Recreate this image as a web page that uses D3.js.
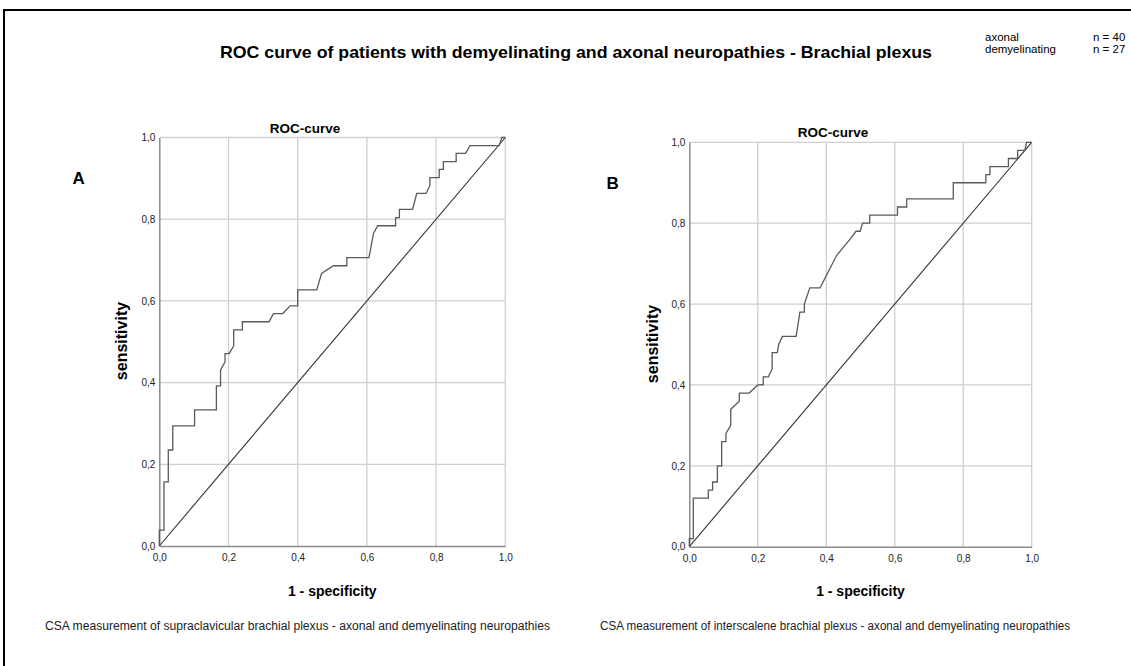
<!DOCTYPE html>
<html>
<head>
<meta charset="utf-8">
<script src="https://cdn.jsdelivr.net/npm/d3@7"></script>
<style>
  html, body { margin: 0; padding: 0; background: #fff; }
  svg { display: block; font-family: "Liberation Sans", Arial, sans-serif; }
</style>
</head>
<body>
<svg id="chart" width="1131" height="666"></svg>
<script>
// ROC curve vertices (1 - specificity, sensitivity), supraclavicular plexus
const supraFpr = [0, 0, 0.0136, 0.0136, 0.026, 0.026, 0.039, 0.039, 0.102, 0.102, 0.165, 0.165, 0.177, 0.177, 0.19, 0.19, 0.202, 0.215, 0.215, 0.24, 0.24, 0.317, 0.33, 0.357, 0.378, 0.4, 0.4, 0.455, 0.469, 0.503, 0.542, 0.542, 0.606, 0.619, 0.631, 0.683, 0.683, 0.694, 0.694, 0.732, 0.744, 0.771, 0.782, 0.782, 0.809, 0.809, 0.821, 0.821, 0.858, 0.858, 0.885, 0.898, 0.982, 0.99, 1];
const supraTpr = [0, 0.039, 0.039, 0.157, 0.157, 0.235, 0.235, 0.294, 0.294, 0.333, 0.333, 0.392, 0.392, 0.431, 0.451, 0.471, 0.471, 0.49, 0.529, 0.529, 0.549, 0.549, 0.569, 0.569, 0.588, 0.588, 0.627, 0.627, 0.667, 0.686, 0.686, 0.706, 0.706, 0.765, 0.784, 0.784, 0.804, 0.804, 0.824, 0.824, 0.863, 0.863, 0.882, 0.902, 0.902, 0.922, 0.922, 0.941, 0.941, 0.961, 0.961, 0.98, 0.98, 1, 1];

// ROC curve vertices, interscalene plexus
const interFpr = [0, 0, 0.0117, 0.0117, 0.0555, 0.0555, 0.068, 0.068, 0.082, 0.082, 0.0945, 0.0945, 0.107, 0.107, 0.121, 0.121, 0.146, 0.146, 0.175, 0.2, 0.216, 0.216, 0.231, 0.242, 0.242, 0.257, 0.261, 0.272, 0.312, 0.323, 0.336, 0.336, 0.352, 0.382, 0.43, 0.469, 0.487, 0.499, 0.506, 0.527, 0.527, 0.608, 0.608, 0.635, 0.635, 0.771, 0.771, 0.866, 0.866, 0.878, 0.878, 0.932, 0.932, 0.959, 0.959, 0.98, 0.985, 1];
const interTpr = [0, 0.02, 0.02, 0.12, 0.12, 0.14, 0.14, 0.16, 0.16, 0.2, 0.2, 0.26, 0.26, 0.28, 0.3, 0.34, 0.36, 0.38, 0.38, 0.4, 0.4, 0.42, 0.42, 0.44, 0.48, 0.48, 0.5, 0.52, 0.52, 0.58, 0.58, 0.6, 0.64, 0.64, 0.72, 0.76, 0.78, 0.78, 0.8, 0.8, 0.82, 0.82, 0.84, 0.84, 0.86, 0.86, 0.9, 0.9, 0.92, 0.92, 0.94, 0.94, 0.96, 0.96, 0.98, 0.98, 1, 1];

// Reference (chance) line
const diagonal = [0, 1];

// Axis ticks and their comma-decimal labels
const tickValues = [0, 0.2, 0.4, 0.6, 0.8, 1.0];
const tickLabels = ["0,0", "0,2", "0,4", "0,6", "0,8", "1,0"];

// Group sizes
const groupNames = ["axonal", "demyelinating"];
const groupCounts = ["n = 40", "n = 27"];

const mainTitle = "ROC curve of patients with demyelinating and axonal neuropathies - Brachial plexus";
const panelTitle = "ROC-curve";
const xTitle = "1 - specificity";
const yTitle = "sensitivity";

const panels = [
  { letter: "A", fpr: supraFpr, tpr: supraTpr,
    caption: "CSA measurement of supraclavicular brachial plexus - axonal and demyelinating neuropathies",
    x0: 159.3, x1: 505.3, y0: 546, y1: 137.5,
    letterX: 72.5, letterY: 184, titleX: 305, titleY: 133, yLabX: 121, yLabY: 341,
    capX: 45, capW: 505 },
  { letter: "B", fpr: interFpr, tpr: interTpr,
    caption: "CSA measurement of interscalene brachial plexus - axonal and demyelinating neuropathies",
    x0: 689.3, x1: 1031.7, y0: 546.7, y1: 142.3,
    letterX: 606.5, letterY: 189, titleX: 833, titleY: 137, yLabX: 652, yLabY: 344,
    capX: 600, capW: 470 }
];

const svg = d3.select("#chart");

// Outer frame
svg.append("rect")
  .attr("x", 4).attr("y", 10)
  .attr("width", 1140).attr("height", 700)
  .attr("fill", "none").attr("stroke", "#000").attr("stroke-width", 2);

// Main title
svg.append("text")
  .attr("x", 220).attr("y", 58)
  .attr("font-size", 17).attr("font-weight", "bold")
  .attr("textLength", 712).attr("lengthAdjust", "spacingAndGlyphs")
  .text(mainTitle);

// Group legend
groupNames.forEach((g, i) => {
  svg.append("text").attr("x", 985).attr("y", 41 + i * 12)
    .attr("font-size", 11.5).text(g);
  svg.append("text").attr("x", 1093).attr("y", 41 + i * 12)
    .attr("font-size", 11.5).text(groupCounts[i]);
});

panels.forEach(p => {
  const x = d3.scaleLinear().domain([0, 1]).range([p.x0, p.x1]);
  const y = d3.scaleLinear().domain([0, 1]).range([p.y0, p.y1]);
  const g = svg.append("g");

  // Grid
  g.append("g").selectAll("line.vg").data(tickValues.slice(1)).join("line")
    .attr("x1", d => x(d)).attr("x2", d => x(d))
    .attr("y1", y(0)).attr("y2", y(1))
    .attr("stroke", "#cfcfcf").attr("stroke-width", 1.3);
  g.append("g").selectAll("line.hg").data(tickValues.slice(1)).join("line")
    .attr("y1", d => y(d)).attr("y2", d => y(d))
    .attr("x1", x(0)).attr("x2", x(1))
    .attr("stroke", "#cfcfcf").attr("stroke-width", 1.3);

  // Axes
  const xAxis = d3.axisBottom(x).tickValues(tickValues)
    .tickFormat((d, i) => tickLabels[i]).tickSize(0).tickPadding(8);
  const yAxis = d3.axisLeft(y).tickValues(tickValues)
    .tickFormat((d, i) => tickLabels[i]).tickSize(0).tickPadding(4);
  const gx = g.append("g").attr("transform", `translate(0,${y(0)})`).call(xAxis);
  const gy = g.append("g").attr("transform", `translate(${x(0)},0)`).call(yAxis);
  [gx, gy].forEach(a => {
    a.select(".domain").attr("stroke", "#8a8a8a").attr("stroke-width", 1.5);
    a.selectAll("text").attr("font-size", 10).attr("fill", "#222")
      .attr("font-family", "Liberation Sans, Arial, sans-serif");
  });

  // Chance line
  g.append("line")
    .attr("x1", x(diagonal[0])).attr("y1", y(diagonal[0]))
    .attr("x2", x(diagonal[1])).attr("y2", y(diagonal[1]))
    .attr("stroke", "#333").attr("stroke-width", 1.1);

  // ROC curve
  const pts = p.fpr.map((f, i) => [f, p.tpr[i]]);
  g.append("path").datum(pts)
    .attr("fill", "none").attr("stroke", "#5a5a5a").attr("stroke-width", 1.3)
    .attr("stroke-linejoin", "miter")
    .attr("d", d3.line().x(d => x(d[0])).y(d => y(d[1])));

  // Labels
  g.append("text").attr("x", p.titleX).attr("y", p.titleY)
    .attr("text-anchor", "middle").attr("font-size", 13.5).attr("font-weight", "bold")
    .text(panelTitle);
  g.append("text").attr("x", p.letterX).attr("y", p.letterY)
    .attr("font-size", 17).attr("font-weight", "bold").text(p.letter);
  g.append("text").attr("x", (p.x0 + p.x1) / 2).attr("y", 596)
    .attr("text-anchor", "middle").attr("font-size", 14).attr("font-weight", "bold")
    .text(xTitle);
  g.append("text")
    .attr("transform", `translate(${p.yLabX + 5.5},${p.yLabY}) rotate(-90)`)
    .attr("text-anchor", "middle").attr("font-size", 16).attr("font-weight", "bold")
    .text(yTitle);
  g.append("text").attr("x", p.capX).attr("y", 630)
    .attr("font-size", 12).attr("fill", "#222")
    .attr("textLength", p.capW).attr("lengthAdjust", "spacingAndGlyphs")
    .text(p.caption);
});
</script>
</body>
</html>
